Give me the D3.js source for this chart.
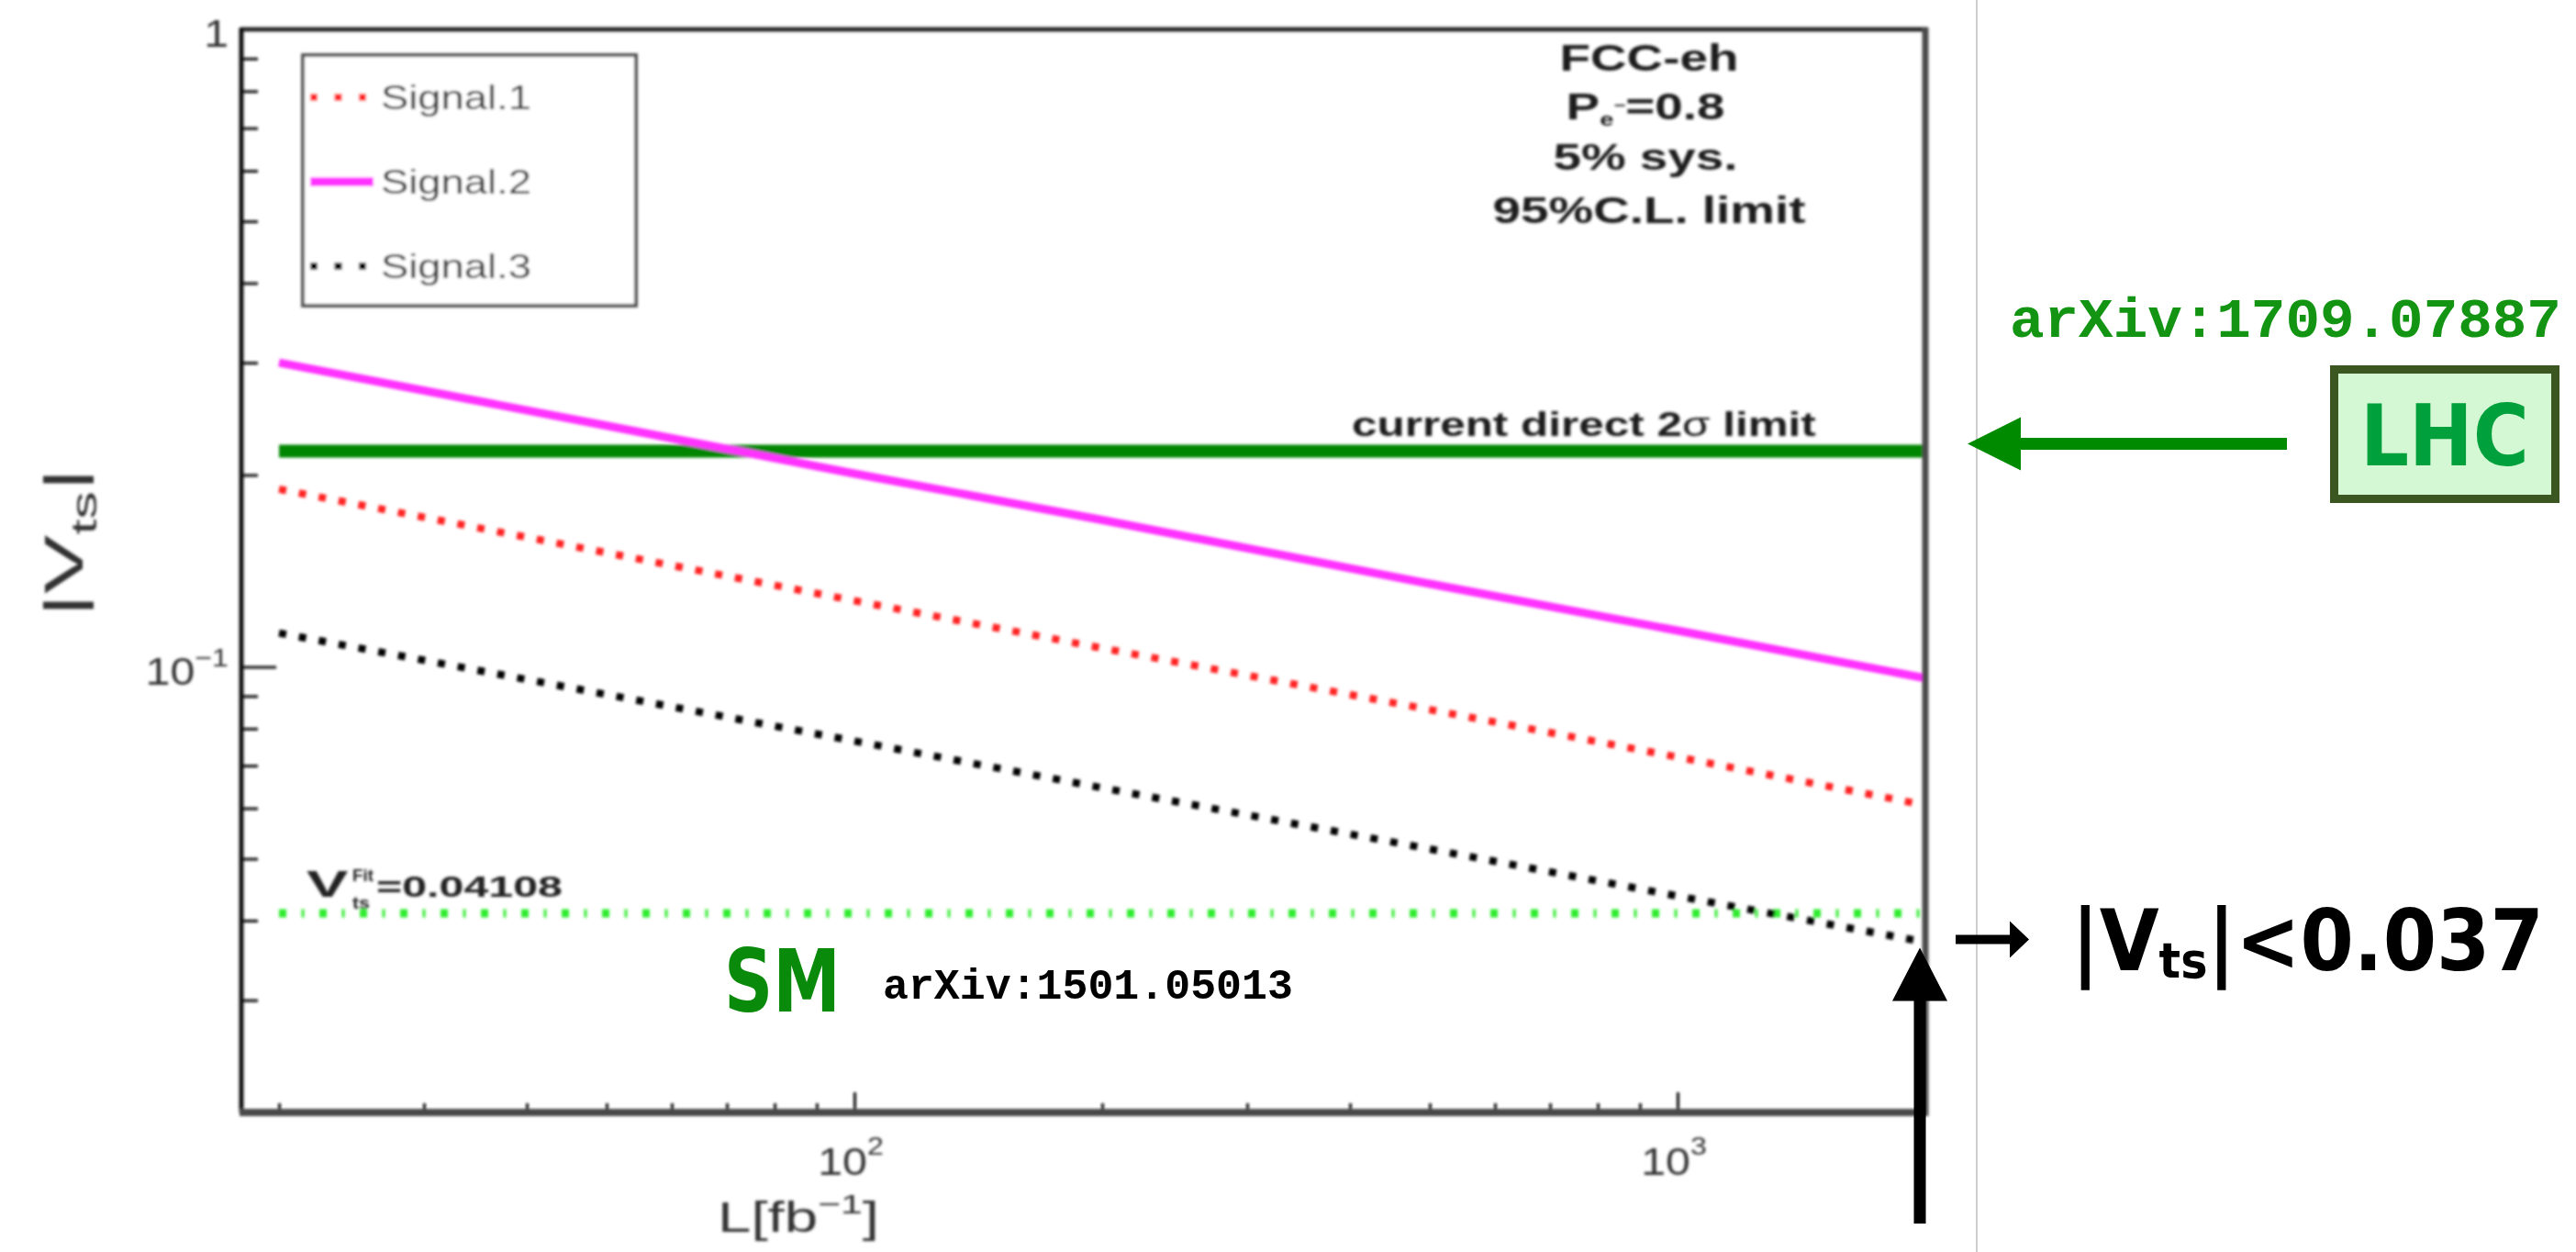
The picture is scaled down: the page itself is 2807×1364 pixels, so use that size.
<!DOCTYPE html>
<html>
<head>
<meta charset="utf-8">
<script src="https://cdn.jsdelivr.net/npm/d3@7"></script>
<style>
  html, body { margin: 0; padding: 0; background: #fff; }
  svg { display: block; }
</style>
</head>
<body>
<div id="chart"></div>
<script>
// Integrated luminosity points (fb^-1) and the 95% C.L. |V_ts| limits for each signal region
const lumi    = [20, 50, 100, 200, 500, 1000, 2000];
const signal1 = [0.190, 0.151, 0.127, 0.107, 0.0857, 0.0722, 0.0607];
const signal2 = [0.300, 0.239, 0.201, 0.170, 0.135, 0.114, 0.096];
const signal3 = [0.113, 0.0905, 0.0765, 0.0646, 0.0518, 0.0437, 0.037];

// Reference lines: current direct LHC limit and the SM global fit value
const lhcLimit = 0.218;
const smFit = 0.04108;

// Axis ranges and ticks
const xDomain = [18, 2000];
const yDomain = [0.02, 1];
const xMajorTicks = [100, 1000];
const xMinorTicks = [20, 30, 40, 50, 60, 70, 80, 90, 200, 300, 400, 500, 600, 700, 800, 900];
const yMajorTicks = [0.1, 1];
const yMinorTicks = [0.02, 0.03, 0.04, 0.05, 0.06, 0.07, 0.08, 0.09, 0.2, 0.3, 0.4, 0.5, 0.6, 0.7, 0.8, 0.9];
const xTickLabels = [{ v: 100, base: "10", exp: "2" }, { v: 1000, base: "10", exp: "3" }];
const yTickLabels = [{ v: 1, base: "1", exp: "" }, { v: 0.1, base: "10", exp: "\u22121" }];

const legendNames = ["Signal.1", "Signal.2", "Signal.3"];

const W = 2807, H = 1364;
const frame = { left: 263, right: 2098, top: 32, bottom: 1212 };
const ROOT_FONT = "'Liberation Sans', Arial, Helvetica, sans-serif";
const MONO_FONT = "'Liberation Mono', 'Courier New', monospace";
const NOTE_FONT = "'DejaVu Sans Condensed', 'DejaVu Sans', sans-serif";

const svg = d3.select("#chart").append("svg").attr("width", W).attr("height", H);
svg.append("rect").attr("width", W).attr("height", H).attr("fill", "#fff");

const defs = svg.append("defs");
defs.append("filter").attr("id", "soft")
  .attr("x", "-2%").attr("y", "-2%").attr("width", "104%").attr("height", "104%")
  .append("feGaussianBlur").attr("stdDeviation", 1.4);
defs.append("clipPath").attr("id", "plotclip").append("rect")
  .attr("x", frame.left).attr("y", frame.top)
  .attr("width", frame.right - frame.left).attr("height", frame.bottom - frame.top);

const x = d3.scaleLog().domain(xDomain).range([frame.left, frame.right]);
const y = d3.scaleLog().domain(yDomain).range([frame.bottom, frame.top]);

// Text helper: builds a text from parts, then places it by fitted width,
// centre + horizontal scale, right edge + scale, or rotated.
function placeText(parent, o) {
  const g = parent.append("g");
  const t = g.append("text")
    .attr("font-family", o.family || ROOT_FONT)
    .attr("font-weight", o.weight || "normal")
    .attr("font-size", o.size)
    .attr("fill", o.fill || "#1a1a1a");
  o.parts.forEach(p => {
    const ts = t.append("tspan").text(p.t);
    if (p.size) ts.attr("font-size", p.size);
    if (p.dy) ts.attr("dy", p.dy);
    if (p.dx) ts.attr("dx", p.dx);
    if (p.weight) ts.attr("font-weight", p.weight);
  });
  const bb = t.node().getBBox();
  let s, tx;
  if (o.x0 !== undefined) {
    s = (o.x1 - o.x0) / bb.width;
    tx = o.x0;
  } else if (o.cx !== undefined) {
    s = o.s || 1;
    tx = o.cx - bb.width * s / 2;
  } else {
    s = o.s || 1;
    tx = o.xr - bb.width * s;
  }
  if (o.rotate) {
    const sr = (o.y0 - o.y1) / bb.width;
    g.attr("transform", `translate(${o.bx},${o.y0}) rotate(-90) scale(${sr},1) translate(${-bb.x},0)`);
  } else {
    g.attr("transform", `translate(${tx},${o.y}) scale(${s},1) translate(${-bb.x},0)`);
  }
  return g;
}

// ---------------- plot (soft rendering) ----------------
const plot = svg.append("g").attr("filter", "url(#soft)");
const inner = plot.append("g").attr("clip-path", "url(#plotclip)");

const line = d3.line().x(d => x(d[0])).y(d => y(d[1]));

// LHC direct limit
inner.append("path")
  .datum([[lumi[0], lhcLimit], [lumi[lumi.length - 1], lhcLimit]])
  .attr("d", line).attr("fill", "none")
  .attr("stroke", "#008600").attr("stroke-width", 14);

// SM fit value
inner.append("path")
  .datum([[lumi[0], smFit], [lumi[lumi.length - 1], smFit]])
  .attr("d", line).attr("fill", "none")
  .attr("stroke", "#2fec2f").attr("stroke-width", 9)
  .attr("stroke-dasharray", "8,16.5,3,16.5");

const series = [
  { name: legendNames[0], values: signal1, color: "#ff2424", width: 8, dash: "8,14", legendDash: "8,18.5" },
  { name: legendNames[1], values: signal2, color: "#ff33ff", width: 9, dash: null, legendDash: null },
  { name: legendNames[2], values: signal3, color: "#000000", width: 8, dash: "8,14", legendDash: "8,18.5" }
];

series.forEach(s => {
  const p = inner.append("path")
    .datum(lumi.map((L, i) => [L, s.values[i]]))
    .attr("d", line).attr("fill", "none")
    .attr("stroke", s.color).attr("stroke-width", s.width);
  if (s.dash) p.attr("stroke-dasharray", s.dash);
});

// Axes with inward ticks
function styleAxis(g) {
  g.select(".domain").remove();
  g.selectAll(".tick line").attr("stroke", "#111").attr("stroke-width", 3);
  g.selectAll(".tick text").remove();
}
plot.append("g").attr("transform", `translate(${frame.left},0)`)
  .call(d3.axisLeft(y).tickValues(yMajorTicks).tickSize(-38).tickFormat("")).call(styleAxis);
plot.append("g").attr("transform", `translate(${frame.left},0)`)
  .call(d3.axisLeft(y).tickValues(yMinorTicks).tickSize(-18).tickFormat("")).call(styleAxis);
plot.append("g").attr("transform", `translate(0,${frame.bottom})`)
  .call(d3.axisBottom(x).tickValues(xMajorTicks).tickSize(-22).tickFormat("")).call(styleAxis);
plot.append("g").attr("transform", `translate(0,${frame.bottom})`)
  .call(d3.axisBottom(x).tickValues(xMinorTicks).tickSize(-10).tickFormat("")).call(styleAxis);

// Frame
plot.append("line").attr("x1", frame.left).attr("x2", frame.right + 3).attr("y1", frame.top).attr("y2", frame.top)
  .attr("stroke", "#2a2a2a").attr("stroke-width", 5);
plot.append("line").attr("x1", frame.left).attr("x2", frame.left).attr("y1", frame.top - 2).attr("y2", frame.bottom)
  .attr("stroke", "#111").attr("stroke-width", 5);
plot.append("line").attr("x1", frame.right).attr("x2", frame.right).attr("y1", frame.top - 2).attr("y2", frame.bottom + 4)
  .attr("stroke", "#4a4a4a").attr("stroke-width", 7);
plot.append("line").attr("x1", frame.left - 2).attr("x2", frame.right + 3).attr("y1", frame.bottom).attr("y2", frame.bottom)
  .attr("stroke", "#4a4a4a").attr("stroke-width", 8);

// Tick labels
xTickLabels.forEach(d => {
  placeText(plot, {
    cx: x(d.v) - 4, s: 1.15, y: frame.bottom + 68, size: 42, fill: "#333",
    parts: [{ t: d.base }, { t: d.exp, size: 28, dy: -22 }]
  });
});
yTickLabels.forEach(d => {
  const parts = [{ t: d.base }];
  if (d.exp) parts.push({ t: d.exp, size: 28, dy: -20 });
  placeText(plot, { xr: frame.left - 14, s: 1.15, y: y(d.v) + 19, size: 42, fill: "#333", parts });
});

// Axis titles
placeText(plot, {
  x0: 782, x1: 958, y: 1342, size: 46, fill: "#333",
  parts: [{ t: "L[fb" }, { t: "\u22121", size: 30, dy: -20 }, { t: "]", dy: 20 }]
});
placeText(plot, {
  rotate: true, bx: 90, y0: 672, y1: 510, size: 60, fill: "#333",
  parts: [{ t: "|V" }, { t: "ts", size: 38, dy: 15 }, { t: "|", dy: -15 }]
});

// Legend
const legend = plot.append("g");
legend.append("rect").attr("x", 330).attr("y", 60).attr("width", 363).attr("height", 273)
  .attr("fill", "#fff").attr("stroke", "#555").attr("stroke-width", 4);
const legendY = [106, 198, 290];
series.forEach((s, i) => {
  const l = legend.append("line")
    .attr("x1", 338).attr("x2", s.dash ? 402 : 407)
    .attr("y1", legendY[i]).attr("y2", legendY[i])
    .attr("stroke", s.color).attr("stroke-width", s.dash ? 8 : 10);
  if (s.legendDash) l.attr("stroke-dasharray", s.legendDash);
  placeText(legend, {
    x0: 415, x1: 579, y: legendY[i] + 13, size: 37, fill: "#333",
    parts: [{ t: s.name }]
  });
});

// Run conditions
const infoCx = 1797;
placeText(plot, { cx: infoCx, s: 1.37, y: 77, size: 40, weight: "bold", parts: [{ t: "FCC-eh" }] });
placeText(plot, {
  cx: infoCx - 4, s: 1.37, y: 130, size: 40, weight: "bold",
  parts: [{ t: "P" }, { t: "e", size: 20, dy: 7 }, { t: "\u2212", size: 16, dy: -17 }, { t: "=0.8", dy: 10 }]
});
placeText(plot, { cx: infoCx - 4, s: 1.37, y: 185, size: 40, weight: "bold", parts: [{ t: "5% sys." }] });
placeText(plot, { cx: infoCx, s: 1.37, y: 243, size: 40, weight: "bold", parts: [{ t: "95%C.L. limit" }] });

// Reference line labels
placeText(plot, {
  x0: 1473, x1: 1979, y: 475, size: 37, weight: "bold",
  parts: [{ t: "current direct 2" }, { t: "\u03c3", weight: "normal" }, { t: " limit" }]
});
placeText(plot, { x0: 334, x1: 380, y: 977, size: 40, weight: "bold", fill: "#222", parts: [{ t: "V" }] });
placeText(plot, { x0: 384, x1: 407, y: 960, size: 18, weight: "bold", fill: "#222", parts: [{ t: "Fit" }] });
placeText(plot, { x0: 384, x1: 403, y: 990, size: 18, weight: "bold", fill: "#222", parts: [{ t: "ts" }] });
placeText(plot, { x0: 410, x1: 613, y: 977, size: 32, weight: "bold", fill: "#222", parts: [{ t: "=0.04108" }] });

// ---------------- annotations (sharp) ----------------
const notes = svg.append("g");

notes.append("line").attr("x1", 2154).attr("x2", 2154).attr("y1", 0).attr("y2", H)
  .attr("stroke", "#cfcfcf").attr("stroke-width", 2);

// LHC reference
placeText(notes, {
  x0: 2190, x1: 2791, y: 367, size: 62, weight: "bold", family: MONO_FONT, fill: "#139413",
  parts: [{ t: "arXiv:1709.07887" }]
});
notes.append("rect").attr("x", 2543.5).attr("y", 402.5).attr("width", 241).attr("height", 141)
  .attr("fill", "#d3f8d3").attr("stroke", "#3b5620").attr("stroke-width", 9);
placeText(notes, {
  x0: 2572, x1: 2756, y: 507, size: 92, weight: "bold", family: NOTE_FONT, fill: "#00a03c",
  parts: [{ t: "LHC" }]
});
const ga = y(lhcLimit) - 8;
notes.append("path")
  .attr("d", `M2144,${ga} L2202,${ga - 29} L2202,${ga - 6.5} L2492,${ga - 6.5} L2492,${ga + 6.5} L2202,${ga + 6.5} L2202,${ga + 29} Z`)
  .attr("fill", "#008a00");

// SM reference
placeText(notes, {
  x0: 789, x1: 916, y: 1102, size: 95, weight: "bold", family: NOTE_FONT, fill: "#0a8a0a",
  parts: [{ t: "SM" }]
});
placeText(notes, {
  x0: 962, x1: 1409, y: 1088, size: 46, weight: "bold", family: MONO_FONT, fill: "#000",
  parts: [{ t: "arXiv:1501.05013" }]
});

// Projected bound at the highest luminosity
const endL = lumi[lumi.length - 1];
const endV = signal3[signal3.length - 1];
const ax = x(endL) - 6;
const tipY = y(endV) + 6;
notes.append("path")
  .attr("d", `M${ax},${tipY} L${ax + 30},${tipY + 58} L${ax + 6.5},${tipY + 58} L${ax + 6.5},1333 L${ax - 6.5},1333 L${ax - 6.5},${tipY + 58} L${ax - 30},${tipY + 58} Z`)
  .attr("fill", "#000");
const ry = y(endV) - 3;
notes.append("path")
  .attr("d", `M2131,${ry - 5} L2190,${ry - 5} L2190,${ry - 20} L2211,${ry} L2190,${ry + 20} L2190,${ry + 5} L2131,${ry + 5} Z`)
  .attr("fill", "#000");
placeText(notes, {
  x0: 2257, x1: 2772, y: 1057, size: 92, weight: "bold", family: NOTE_FONT, fill: "#000",
  parts: [{ t: "|V" }, { t: "ts", size: 54, dy: 8 }, { t: "|<" + endV.toFixed(3), dy: -8 }]
});
</script>
</body>
</html>
